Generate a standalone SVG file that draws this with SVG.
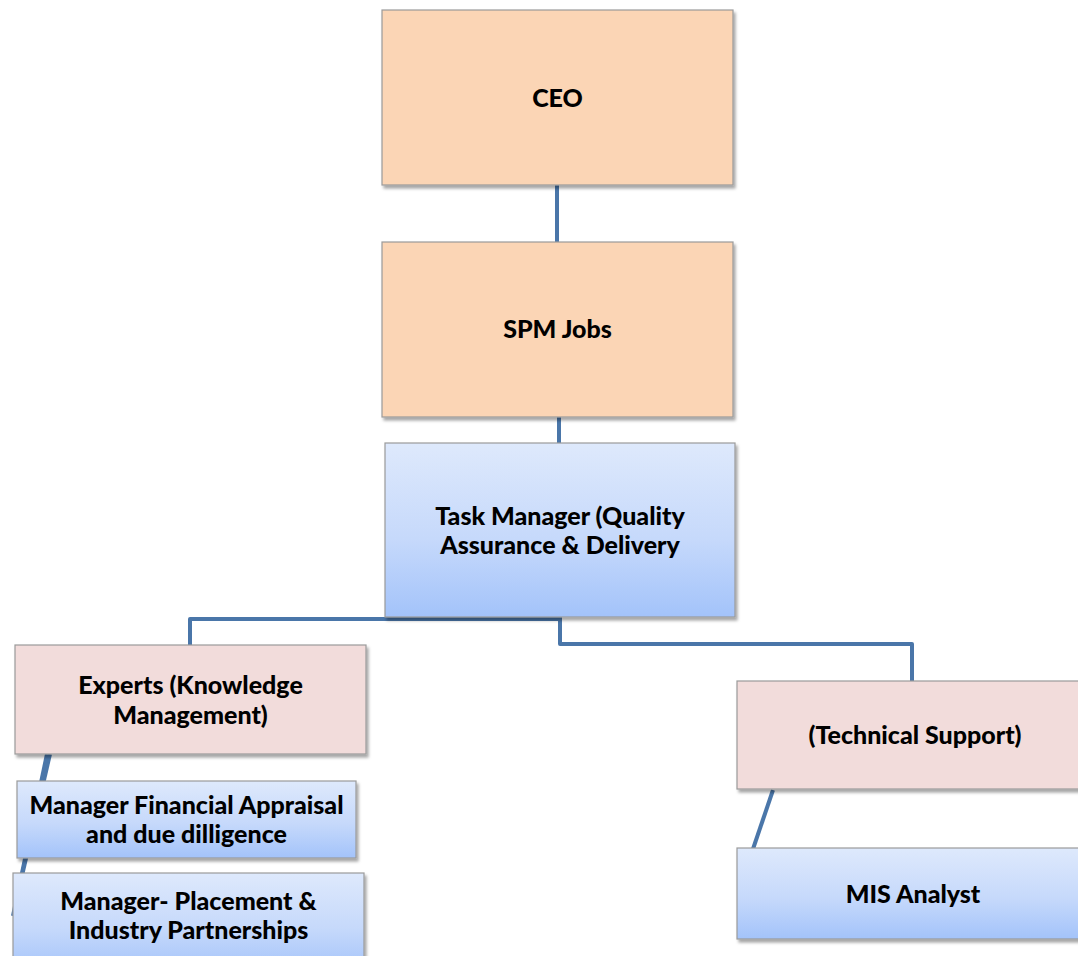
<svg xmlns="http://www.w3.org/2000/svg" width="1078" height="956" viewBox="0 0 1078 956">
  <defs>
    <linearGradient id="blueFill" x1="0" y1="0" x2="0" y2="1">
      <stop offset="0" stop-color="#dee9fc"/>
      <stop offset="0.55" stop-color="#c6d9fb"/>
      <stop offset="1" stop-color="#a3c3fa"/>
    </linearGradient>
    <filter id="shadow" x="-5%" y="-5%" width="112%" height="120%">
      <feDropShadow dx="2" dy="3" stdDeviation="1.6" flood-color="#000" flood-opacity="0.35"/>
    </filter>
  </defs>
  <style>
    .box { stroke: #9a9a9a; stroke-width: 1.2; filter: url(#shadow); }
    .peach { fill: #fbd5b5; }
    .rose { fill: #f2dcdb; }
    .blue { fill: url(#blueFill); }
    .label { font-family: Lato, "Open Sans", "Liberation Sans", sans-serif; font-weight: 900; font-size: 25px; fill: #000; text-anchor: middle; }
    .link { fill: none; stroke: #4a76a9; stroke-width: 4; stroke-linejoin: round; }
  </style>

  <rect width="1078" height="956" fill="#ffffff"/>

  <!-- connectors -->
  <g id="connectors">
    <path class="link" d="M557 185 V242"/>
    <path class="link" d="M559 417 V443"/>
    <path class="link" d="M190 645 V619 H560"/>
    <path class="link" d="M560 617 V644 H912 V681"/>
    <path class="link" d="M50 754 L21 880"/>
    <path class="link" d="M47 754 L13 916" stroke-width="2"/>
    <path class="link" d="M773 790 L753 849"/>
  </g>

  <g id="ceo">
    <rect class="box peach" x="382" y="10" width="351" height="175"/>
    <text class="label" x="557.5" y="107">CEO</text>
  </g>

  <g id="spm-jobs">
    <rect class="box peach" x="382" y="242" width="351" height="175"/>
    <text class="label" x="557.5" y="338">SPM Jobs</text>
  </g>

  <g id="task-manager">
    <rect class="box blue" x="385" y="443" width="350" height="174"/>
    <text class="label" x="560" y="525">Task Manager (Quality</text>
    <text class="label" x="560" y="554">Assurance &amp; Delivery</text>
  </g>

  <g id="experts">
    <rect class="box rose" x="15" y="645" width="351" height="109"/>
    <text class="label" x="190.5" y="694">Experts (Knowledge</text>
    <text class="label" x="190.5" y="724">Management)</text>
  </g>

  <g id="manager-financial">
    <rect class="box blue" x="17" y="781" width="339" height="77"/>
    <text class="label" x="186.5" y="814">Manager Financial Appraisal</text>
    <text class="label" x="186.5" y="843">and due dilligence</text>
  </g>

  <g id="manager-placement">
    <rect class="box blue" x="13" y="873" width="351" height="100"/>
    <text class="label" x="188.5" y="910">Manager- Placement &amp;</text>
    <text class="label" x="188.5" y="939">Industry Partnerships</text>
  </g>

  <g id="technical-support">
    <rect class="box rose" x="737" y="681" width="360" height="108"/>
    <text class="label" x="915" y="744">(Technical Support)</text>
  </g>

  <g id="mis-analyst">
    <rect class="box blue" x="737" y="848" width="360" height="91"/>
    <text class="label" x="913" y="903">MIS Analyst</text>
  </g>
</svg>
